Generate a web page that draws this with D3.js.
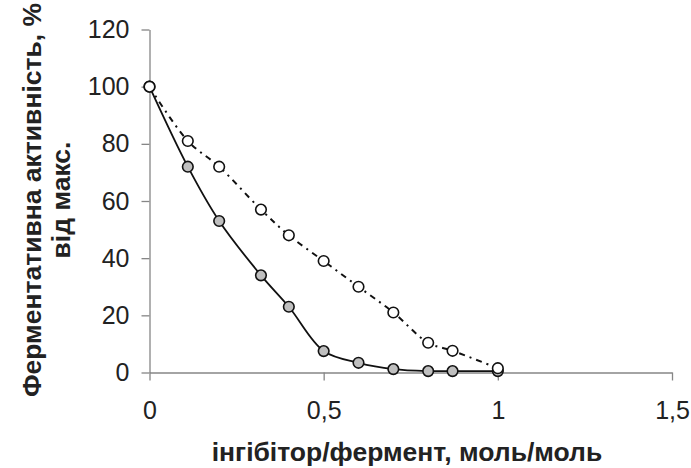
<!DOCTYPE html>
<html>
<head>
<meta charset="utf-8">
<script src="https://cdn.jsdelivr.net/npm/d3@7"></script>
<style>
  body { margin: 0; background: #fff; }
  svg { display: block; font-family: "Liberation Sans", Arial, sans-serif; }
  .axis path, .axis line { stroke: #868686; stroke-width: 1.3; }
  .axis text { fill: #222; font-size: 25px; }
  .title { fill: #222; font-size: 26.5px; font-weight: bold; }
</style>
</head>
<body>
<svg id="chart" width="691" height="468"></svg>
<script>
// inhibitor/enzyme ratio
var ratio = [0, 0.11, 0.2, 0.32, 0.4, 0.5, 0.6, 0.7, 0.8, 0.87, 1];
// activity, % of max
var filledSeries = [100, 72, 53, 34, 23, 7.5, 3.4, 1.2, 0.5, 0.5, 0.5];
var openSeries = [100, 81, 72, 57, 48, 39, 30, 21, 10.4, 7.6, 1.5];
var xTicks = [0, 0.5, 1, 1.5];
var yTicks = [0, 20, 40, 60, 80, 100, 120];

var svg = d3.select("#chart");
var x = d3.scaleLinear().domain([0, 1.5]).range([149.5, 672]);
var y = d3.scaleLinear().domain([0, 120]).range([372.5, 29.5]);

svg.append("g")
  .attr("class", "axis")
  .attr("transform", "translate(0," + y(0) + ")")
  .call(d3.axisBottom(x).tickValues(xTicks).tickSize(8).tickSizeOuter(0).tickPadding(21)
    .tickFormat(function(d) { return String(d).replace(".", ","); }));

svg.append("g")
  .attr("class", "axis")
  .attr("transform", "translate(" + x(0) + ",0)")
  .call(d3.axisLeft(y).tickValues(yTicks).tickSize(8).tickSizeOuter(0).tickPadding(12));

svg.selectAll(".axis text").attr("font-family", null).attr("font-size", null);

function series(vals) {
  return ratio.map(function(r, i) { return [r, vals[i]]; });
}

var line = d3.line()
  .x(function(d) { return x(d[0]); })
  .y(function(d) { return y(d[1]); })
  .curve(d3.curveCatmullRom.alpha(0.5));

svg.append("path")
  .datum(series(openSeries))
  .attr("d", line)
  .attr("fill", "none")
  .attr("stroke", "#111")
  .attr("stroke-width", 2)
  .attr("stroke-dasharray", "6,5,2,5");

svg.append("path")
  .datum(series(filledSeries))
  .attr("d", line)
  .attr("fill", "none")
  .attr("stroke", "#111")
  .attr("stroke-width", 1.8);

svg.selectAll(".dot-filled")
  .data(series(filledSeries))
  .enter().append("circle")
  .attr("class", "dot-filled")
  .attr("cx", function(d) { return x(d[0]); })
  .attr("cy", function(d) { return y(d[1]); })
  .attr("r", 5.3)
  .attr("fill", "#bfbfbf")
  .attr("stroke", "#111")
  .attr("stroke-width", 1.6);

svg.selectAll(".dot-open")
  .data(series(openSeries))
  .enter().append("circle")
  .attr("class", "dot-open")
  .attr("cx", function(d) { return x(d[0]); })
  .attr("cy", function(d) { return y(d[1]); })
  .attr("r", 5.3)
  .attr("fill", "#fff")
  .attr("stroke", "#111")
  .attr("stroke-width", 1.6);

// axis titles
svg.append("text")
  .attr("class", "title")
  .attr("x", 407)
  .attr("y", 461)
  .attr("text-anchor", "middle")
  .text("інгібітор/фермент, моль/моль");

var yTitle = svg.append("text")
  .attr("class", "title")
  .attr("transform", "translate(41,200) rotate(-90)")
  .attr("text-anchor", "middle");
yTitle.append("tspan").attr("x", 0).attr("y", 0).text("Ферментативна активність, %");
yTitle.append("tspan").attr("x", 0).attr("y", 29).text("від макс.");
</script>
</body>
</html>
